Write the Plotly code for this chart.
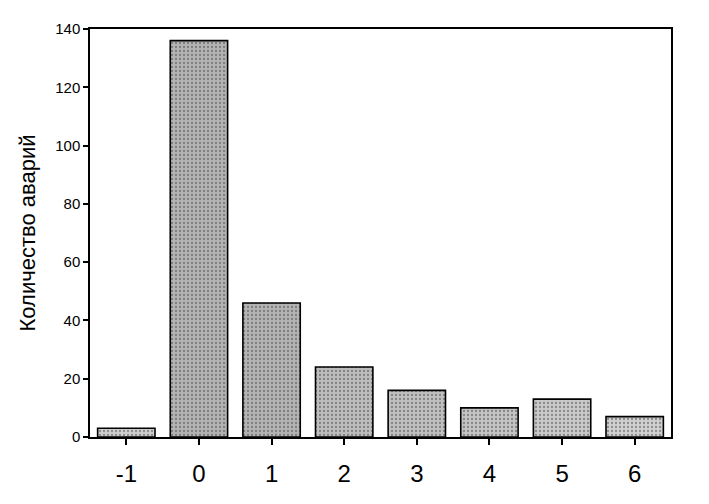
import plotly.graph_objects as go

categories = [-1, 0, 1, 2, 3, 4, 5, 6]
accidents = [3, 136, 46, 24, 16, 10, 13, 7]
y_ticks = [0, 20, 40, 60, 80, 100, 120, 140]
bar_shades = ["#cfcfcf", "#b4b4b4", "#b4b4b4", "#bdbdbd", "#c0c0c0", "#c4c4c4", "#cacaca", "#d0d0d0"]

fig = go.Figure(go.Bar(
    x=categories, y=accidents,
    marker=dict(color=bar_shades, line=dict(color="black", width=1.6),
                pattern=dict(shape=".", fgcolor="#5a5a5a", bgcolor=bar_shades,
                             size=4, solidity=0.25, fillmode="overlay")),
    width=0.79,
))
fig.update_layout(
    width=709, height=504,
    margin=dict(l=82, r=46, t=17, b=75),
    paper_bgcolor="white", plot_bgcolor="white",
    showlegend=False,
    font=dict(family="Liberation Sans, Arial", color="black"),
)
fig.update_xaxes(
    range=[-1.5, 6.5], tickmode="array", tickvals=categories,
    ticktext=[str(c) for c in categories],
    showline=True, linecolor="black", linewidth=1.5, mirror=True,
    ticks="outside", ticklen=6, tickwidth=1.5, tickcolor="black",
    tickfont=dict(size=24), ticklabelstandoff=8,
    showgrid=False, zeroline=False,
)
fig.update_yaxes(
    range=[0, 140], tickmode="array", tickvals=y_ticks,
    showline=True, linecolor="black", linewidth=1.5, mirror=True,
    ticks="outside", ticklen=5, tickwidth=1.5, tickcolor="black",
    tickfont=dict(size=15), showgrid=False, zeroline=False,
    title=dict(text="Количество аварий", font=dict(size=22), standoff=14),
)
fig.write_html("out.html")
